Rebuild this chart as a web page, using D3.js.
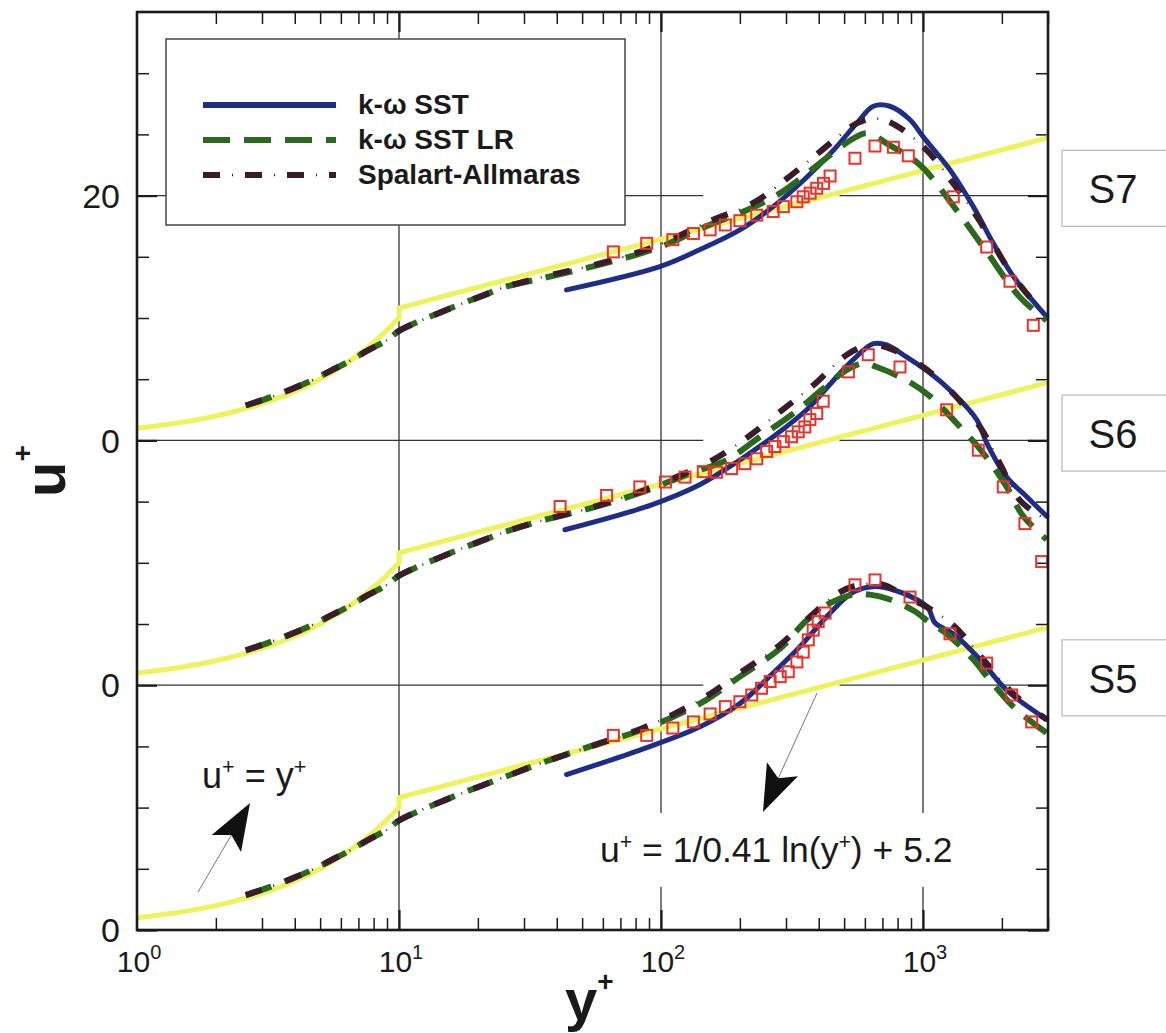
<!DOCTYPE html>
<html>
<head>
<meta charset="utf-8">
<script src="https://cdnjs.cloudflare.com/ajax/libs/d3/7.8.5/d3.min.js"></script>
<style>
  html, body { margin: 0; padding: 0; background: #fff; }
  svg { display: block; font-family: "Liberation Sans", Arial, Helvetica, sans-serif; }
</style>
</head>
<body>
<svg id="chart" width="1166" height="1033"></svg>
<script>
// ---------------- data ----------------
// Stations are stacked by shifting u+ by a constant offset.
const stations = ["S5", "S6", "S7"];
const stationOffsets = [0, 20, 40];

// Axis ticks
const yMajorTicks = [0, 20, 40, 60];
const yTickLabels = ["0", "0", "0", "20"];
const xDecades = [1, 10, 100, 1000];
const xDecadeExponents = ["0", "1", "2", "3"];

// Log-law constants (u+ = 1/kappa ln(y+) + B)
const KAPPA = 0.41;
const B = 5.2;

// Near-wall part shared by the k-omega SST LR and Spalart-Allmaras runs [y+, u+]
const nearWall = [[2.6, 2.85], [3.2, 3.5], [3.9, 4.2], [4.7, 4.95], [5.5, 5.7], [6.5, 6.5], [7.6, 7.35],
                  [9.0, 8.2], [10.0, 8.95], [12.0, 9.75], [14.0, 10.35], [17.5, 11.2], [21.0, 11.85],
                  [26.0, 12.6]];

// k-omega SST (wall functions) [y+, u+]
const sstS5 = [[43.6, 12.7], [83, 14.7], [141, 16.6], [200, 18.5], [268, 21.0], [339, 23.15], [429, 25.6],
               [542, 27.6], [646, 28.05], [770, 27.8], [946, 27.0], [1047, 26.3], [1111, 25.1], [1305, 24.2],
               [1651, 22.1], [2086, 19.6], [2966, 17.2]];
const sstS6 = [[43, 12.7], [91, 14.7], [141, 16.4], [200, 18.4], [268, 20.3], [360, 22.5], [455, 24.9],
               [542, 26.6], [646, 27.9], [727, 27.8], [867, 26.8], [1064, 25.5], [1305, 23.85], [1603, 21.7],
               [1750, 19.8], [2086, 17.0], [2489, 15.4], [2966, 13.8]];
const sstS7 = [[43.6, 12.3], [99, 14.2], [141, 15.6], [200, 17.2], [268, 19.1], [360, 21.5], [455, 23.7],
               [558, 25.9], [646, 27.3], [748, 27.3], [892, 26.2], [1002, 24.8], [1268, 22.1], [1556, 19.1],
               [1855, 16.1], [2212, 13.4], [2966, 10.1]];

// k-omega SST LR (outer part, joined to nearWall)
const lrS5 = [[34.5, 13.6], [53.6, 15.0], [83, 16.3], [111, 17.4], [149, 18.8], [200, 20.7], [285, 23.0],
              [360, 25.3], [442, 26.7], [542, 27.4], [628, 27.4], [748, 27.0], [919, 26.1], [1064, 25.1],
              [1231, 24.2], [1556, 22.1], [1802, 20.4], [2212, 18.25], [2636, 16.9], [2966, 16.1]];
const lrS6 = [[34.5, 13.4], [53.6, 14.45], [83, 15.7], [129, 17.3], [178, 18.4], [239, 20.3], [320, 22.2],
              [417, 24.25], [512, 25.75], [592, 26.3], [666, 26.0], [867, 24.9], [1064, 23.6], [1344, 21.4],
              [1699, 18.95], [2086, 16.2], [2415, 13.8], [2966, 11.9]];
const lrS7 = [[34.5, 13.2], [62, 14.5], [99, 15.8], [149, 17.5], [212, 18.8], [285, 20.2], [360, 21.8],
              [442, 23.3], [527, 24.5], [610, 25.1], [748, 24.1], [974, 22.5], [1344, 18.8], [1699, 15.8],
              [2345, 11.7], [2966, 9.8]];

// Spalart-Allmaras (outer part, joined to nearWall)
const saS5 = [[34.5, 13.6], [54, 15.0], [83, 16.4], [111, 17.6], [149, 19.1], [200, 21.0], [285, 23.3],
              [370, 25.6], [482, 27.6], [575, 28.2], [706, 28.2], [867, 27.2], [1032, 26.4], [1305, 24.9],
              [1699, 22.1], [2212, 19.3], [2966, 17.2]];
const saS6 = [[34.5, 13.4], [54, 14.5], [83, 15.8], [120, 17.2], [158, 18.4], [212, 20.2], [285, 22.35],
              [381, 24.5], [512, 27.0], [628, 27.8], [771, 27.4], [1002, 26.0], [1268, 24.1], [1651, 21.1],
              [1967, 18.1], [2345, 15.1], [2966, 13.5]];
const saS7 = [[34.5, 13.3], [62, 14.6], [99, 16.0], [149, 17.8], [225, 19.4], [311, 21.6], [405, 23.6],
              [558, 25.9], [646, 26.3], [748, 26.0], [1002, 24.0], [1305, 21.0], [1603, 18.3], [2212, 13.4],
              [2966, 10.1]];

// Measurements [y+, u+]
const expS5 = [[65.8, 15.9], [88.2, 15.9], [111, 16.5], [133, 17.0], [154, 17.65], [176, 18.25], [200, 18.65],
               [222, 19.2], [242, 19.75], [261, 20.3], [285, 20.7], [306, 21.1], [330, 21.9], [349, 22.7],
               [365, 23.7], [381, 24.5], [398, 25.2], [423, 25.9], [550, 28.2], [656, 28.6], [892, 27.2],
               [1268, 24.2], [1750, 21.8], [2179, 19.2], [2600, 17.0]];
const expS6 = [[41.2, 14.6], [62, 15.5], [83, 16.2], [104, 16.6], [123.5, 17.0], [145, 17.45], [163, 17.4],
               [186, 17.7], [209, 18.1], [232, 18.5], [253, 19.1], [272, 19.5], [293, 19.9], [315, 20.3],
               [334, 20.7], [354, 21.1], [370, 21.7], [393, 22.2], [416, 23.2], [519, 25.6], [618, 27.0],
               [817, 26.0], [1231, 22.5], [1626, 19.2], [2025, 16.2], [2449, 13.2], [2838, 10.1]];
const expS7 = [[65.8, 15.4], [88.2, 16.1], [111, 16.4], [133, 16.9], [154, 17.2], [176, 17.6], [200, 17.95],
               [232, 18.4], [268, 18.7], [293, 19.1], [330, 19.5], [349, 19.9], [371, 20.2], [393, 20.6],
               [417, 21.0], [442, 21.6], [550, 23.05], [656, 24.05], [771, 23.95], [879, 23.25], [1305, 19.9],
               [1750, 15.8], [2148, 13.0], [2636, 9.4]];

const sstRuns = [sstS5, sstS6, sstS7];
const lrRuns = [lrS5, lrS6, lrS7];
const saRuns = [saS5, saS6, saS7];
const expRuns = [expS5, expS6, expS7];

// Legend entries
const legendLabels = ["k-\u03c9 SST", "k-\u03c9 SST LR", "Spalart-Allmaras"];

// Arrows pointing at the two wall laws, in plotted (y+, stacked u+) units
const lawArrows = [
  { from: [1.71, 3.1], to: [2.70, 10.38] },
  { from: [394, 19.36], to: [245, 9.64] }
];

// ---------------- styles ----------------
const COLORS = { sst: "#1e2e86", lr: "#2b6a1e", sa: "#3a1c2a", exp: "#e8342c", law: "#eef25c", grid: "#333", ink: "#1a1a1a" };
const LR_DASH = "27 14";
const SA_DASH = "17 25";          // long dashes of the dash-dot pattern
const SA_DOT = "0 29 1 12";       // thin dot centred in every other gap

// ---------------- layout ----------------
const svg = d3.select("#chart");
const x = d3.scaleLog().domain([1, 3000]).range([137, 1048]);
const y = d3.scaleLinear().domain([0, 75]).range([930, 12]);
const [x0, x1] = x.range();
const [y0, y1] = y.range();

svg.append("rect").attr("width", 1166).attr("height", 1033).attr("fill", "#fff");

// grid lines (horizontal ones are interrupted across the data cluster)
const grid = svg.append("g").attr("stroke", COLORS.grid).attr("stroke-width", 1.3);
[10, 100, 1000].forEach(v => {
  grid.append("line").attr("x1", x(v)).attr("x2", x(v)).attr("y1", y0).attr("y2", y1);
});
const gridGap = [145, 480];
[20, 40, 60].forEach(v => {
  grid.append("line").attr("x1", x0).attr("x2", x(gridGap[0])).attr("y1", y(v)).attr("y2", y(v));
  grid.append("line").attr("x1", x(gridGap[1])).attr("x2", x1).attr("y1", y(v)).attr("y2", y(v));
});

// ticks on all four sides, pointing inward
const xMinor = [];
xDecades.forEach(d => { for (let k = 2; k <= 9; k++) if (d * k <= 3000) xMinor.push(d * k); });
const yMinor = d3.range(5, 75, 5).filter(v => !yMajorTicks.includes(v));

function tickAxis(axis, values, size, transform, width) {
  const g = svg.append("g").attr("transform", transform)
    .call(axis.tickValues(values).tickSize(size).tickFormat(""));
  g.select(".domain").remove();
  g.selectAll(".tick line").attr("stroke", COLORS.ink).attr("stroke-width", width);
}
tickAxis(d3.axisBottom(x), xDecades.slice(1), -20, `translate(0,${y0})`, 2.2);
tickAxis(d3.axisBottom(x), xMinor, -12, `translate(0,${y0})`, 1.5);
tickAxis(d3.axisTop(x), xDecades.slice(1), -20, `translate(0,${y1})`, 2.2);
tickAxis(d3.axisTop(x), xMinor, -12, `translate(0,${y1})`, 1.5);
tickAxis(d3.axisLeft(y), yMajorTicks, -20, `translate(${x0},0)`, 2.2);
tickAxis(d3.axisLeft(y), yMinor, -12, `translate(${x0},0)`, 1.5);
tickAxis(d3.axisRight(y), yMajorTicks, -20, `translate(${x1},0)`, 2.2);
tickAxis(d3.axisRight(y), yMinor, -12, `translate(${x1},0)`, 1.5);

// ---------------- curves ----------------
const plot = svg.append("g");
const lineFor = off => d3.line()
  .x(d => x(d[0])).y(d => y(d[1] + off))
  .curve(d3.curveCatmullRom.alpha(0.5));

// wall laws: viscous sublayer up to y+ = 10, log law beyond
const lawPts = [];
d3.range(0, 1.0001, 0.05).forEach(e => { const yp = Math.pow(10, e); lawPts.push([yp, yp]); });
d3.range(1, Math.log10(3000) + 1e-9, 0.05).forEach(e => {
  const yp = Math.pow(10, e); lawPts.push([yp, Math.log(yp) / KAPPA + B]);
});
lawPts.push([3000, Math.log(3000) / KAPPA + B]);

stationOffsets.forEach(off => {
  plot.append("path").attr("d", d3.line().x(d => x(d[0])).y(d => y(d[1] + off))(lawPts))
    .attr("fill", "none").attr("stroke", COLORS.law).attr("stroke-width", 5);
});

stationOffsets.forEach((off, i) => {
  const ln = lineFor(off);
  plot.append("path").attr("d", ln(sstRuns[i]))
    .attr("fill", "none").attr("stroke", COLORS.sst).attr("stroke-width", 5).attr("stroke-linecap", "round");
  plot.append("path").attr("d", ln(nearWall.concat(lrRuns[i])))
    .attr("fill", "none").attr("stroke", COLORS.lr).attr("stroke-width", 6)
    .attr("stroke-dasharray", LR_DASH);
  const saPath = ln(nearWall.concat(saRuns[i]));
  plot.append("path").attr("d", saPath)
    .attr("fill", "none").attr("stroke", COLORS.sa).attr("stroke-width", 6)
    .attr("stroke-dasharray", SA_DASH);
  plot.append("path").attr("d", saPath)
    .attr("fill", "none").attr("stroke", COLORS.sa).attr("stroke-width", 2.5)
    .attr("stroke-dasharray", SA_DOT);
});

const sq = 11;
stationOffsets.forEach((off, i) => {
  plot.append("g").selectAll("rect").data(expRuns[i]).join("rect")
    .attr("x", d => x(d[0]) - sq / 2).attr("y", d => y(d[1] + off) - sq / 2)
    .attr("width", sq).attr("height", sq)
    .attr("fill", "none").attr("stroke", COLORS.exp).attr("stroke-width", 2);
});

// frame
svg.append("rect").attr("x", x0).attr("y", y1).attr("width", x1 - x0).attr("height", y0 - y1)
  .attr("fill", "none").attr("stroke", COLORS.ink).attr("stroke-width", 2.6);

// ---------------- tick labels & titles ----------------
const xl = svg.append("g").attr("fill", COLORS.ink);
xDecades.forEach((d, i) => {
  const t = xl.append("text").attr("x", x(d) + 2).attr("y", 972)
    .attr("text-anchor", "middle").attr("font-size", 30);
  t.append("tspan").text("10");
  t.append("tspan").attr("dy", -13).attr("font-size", 20).text(xDecadeExponents[i]);
});
yMajorTicks.forEach((v, i) => {
  svg.append("text").attr("x", 120).attr("y", y(v)).attr("dy", "0.36em")
    .attr("text-anchor", "end").attr("font-size", 34).attr("fill", COLORS.ink).text(yTickLabels[i]);
});

const yt = svg.append("text").attr("transform", "translate(65,497) rotate(-90)")
  .attr("font-size", 58).attr("font-weight", "bold").attr("fill", COLORS.ink);
yt.append("tspan").text("u");
yt.append("tspan").attr("dy", -33).attr("font-size", 28).text("+");

const xt = svg.append("text").attr("x", 565).attr("y", 1020)
  .attr("font-size", 58).attr("font-weight", "bold").attr("fill", COLORS.ink);
xt.append("tspan").text("y");
xt.append("tspan").attr("dy", -29).attr("font-size", 28).text("+");

// ---------------- legend ----------------
const lg = svg.append("g");
lg.append("rect").attr("x", 166).attr("y", 39).attr("width", 459).attr("height", 186)
  .attr("fill", "#fff").attr("stroke", "#444").attr("stroke-width", 1.5);
const legendStyles = [
  { c: COLORS.sst, dash: null, dot: false },
  { c: COLORS.lr, dash: LR_DASH, dot: false },
  { c: COLORS.sa, dash: SA_DASH, dot: true }
];
legendLabels.forEach((lab, i) => {
  const ly = 105 + i * 35;
  lg.append("line").attr("x1", 203).attr("x2", 336).attr("y1", ly).attr("y2", ly)
    .attr("stroke", legendStyles[i].c).attr("stroke-width", 6)
    .attr("stroke-dasharray", legendStyles[i].dash);
  if (legendStyles[i].dot) {
    lg.append("line").attr("x1", 203).attr("x2", 336).attr("y1", ly).attr("y2", ly)
      .attr("stroke", legendStyles[i].c).attr("stroke-width", 2.5).attr("stroke-dasharray", SA_DOT);
  }
  lg.append("text").attr("x", 358).attr("y", ly + 9).attr("font-size", 28).attr("font-weight", "bold")
    .attr("fill", COLORS.ink).text(lab);
});

// ---------------- station labels ----------------
stations.forEach((s, i) => {
  const cy = y(stationOffsets[i] + 20.6);
  svg.append("rect").attr("x", 1062).attr("y", cy - 38).attr("width", 130).attr("height", 76)
    .attr("fill", "#fff").attr("stroke", "#aaa").attr("stroke-width", 1);
  svg.append("text").attr("x", 1113).attr("y", cy + 15).attr("text-anchor", "middle")
    .attr("font-size", 40).attr("fill", COLORS.ink).text(s);
});

// ---------------- annotations ----------------
svg.append("rect").attr("x", 582).attr("y", 813).attr("width", 392).attr("height", 74).attr("fill", "#fff");

function supText(parent, xPos, yPos, size, parts) {
  const t = parent.append("text").attr("x", xPos).attr("y", yPos).attr("font-size", size).attr("fill", COLORS.ink);
  let raised = false;
  parts.forEach(p => {
    const sp = t.append("tspan").text(p.t);
    if (p.sup) { sp.attr("dy", -size * 0.38).attr("font-size", size * 0.6); raised = true; }
    else if (raised) { sp.attr("dy", size * 0.38); raised = false; }
  });
  return t;
}
supText(svg, 202, 788, 36, [{ t: "u" }, { t: "+", sup: true }, { t: " = y" }, { t: "+", sup: true }]);
supText(svg, 600, 862, 35.5, [{ t: "u" }, { t: "+", sup: true }, { t: " = 1/0.41 ln(y" }, { t: "+", sup: true }, { t: ") + 5.2" }]);

lawArrows.forEach(a => {
  const tx = x(a.from[0]), ty = y(a.from[1]);
  const hx = x(a.to[0]), hy = y(a.to[1]);
  const len = Math.hypot(hx - tx, hy - ty);
  const ux = (hx - tx) / len, uy = (hy - ty) / len;
  const nx = -uy, ny = ux;
  svg.append("line").attr("x1", tx).attr("y1", ty).attr("x2", hx - 36 * ux).attr("y2", hy - 36 * uy)
    .attr("stroke", "#777").attr("stroke-width", 1);
  const pts = [
    [hx, hy],
    [hx - 47 * ux + 17 * nx, hy - 47 * uy + 17 * ny],
    [hx - 37 * ux, hy - 37 * uy],
    [hx - 47 * ux - 17 * nx, hy - 47 * uy - 17 * ny]
  ];
  svg.append("path").attr("d", "M" + pts.map(p => p.join(",")).join("L") + "Z").attr("fill", "#111");
});
</script>
</body>
</html>
